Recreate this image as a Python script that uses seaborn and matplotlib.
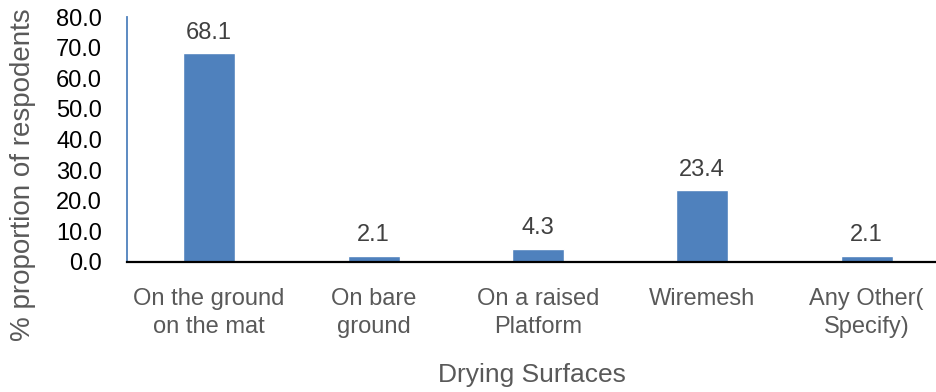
import matplotlib
matplotlib.use("Agg")
import matplotlib.pyplot as plt
import seaborn as sns
import pandas as pd

# Survey results: where the produce is dried
surfaces = ["On the ground\non the mat", "On bare\nground", "On a raised\nPlatform",
            "Wiremesh", "Any Other(\nSpecify)"]
percent = [68.1, 2.1, 4.3, 23.4, 2.1]
y_ticks = [0, 10, 20, 30, 40, 50, 60, 70, 80]

df = pd.DataFrame({"surface": surfaces, "percent": percent})

sns.set_theme(style="white")
plt.rcParams["font.family"] = ["Liberation Sans", "DejaVu Sans"]

fig = plt.figure(figsize=(9.37, 3.92), dpi=100)
ax = fig.add_axes([127 / 937, 130 / 392, 810 / 937, 245 / 392])

bar_color = "#4F81BD"
sns.barplot(data=df, x="surface", y="percent", color=bar_color, width=0.316,
            saturation=1, ax=ax)

ax.set_xlim(-0.5, 4.428)
ax.set_ylim(0, 80)
ax.set_yticks(y_ticks)
ax.set_yticklabels([f"{v:.1f}" for v in y_ticks], color="black", fontsize=17)
ax.tick_params(axis="y", length=0, pad=18)
ax.tick_params(axis="x", length=0, pad=19, labelsize=17, labelcolor="#595959")
for lbl in ax.get_xticklabels():
    lbl.set_linespacing(1.32)

for spine in ["top", "right"]:
    ax.spines[spine].set_visible(False)
ax.spines["left"].set_color(bar_color)
ax.spines["left"].set_linewidth(1.3)
ax.spines["bottom"].set_color("black")
ax.spines["bottom"].set_linewidth(1.6)
ax.spines["bottom"].set_zorder(5)

for container in ax.containers:
    ax.bar_label(container, labels=[f"{v:.1f}" for v in percent], padding=7,
                 fontsize=17, color="#404040")

ax.set_xlabel("Drying Surfaces", fontsize=19, color="#595959", labelpad=18)
ax.set_ylabel("% proportion of respodents", fontsize=20, color="#595959")
ax.yaxis.label.set_va("center")
ax.yaxis.set_label_coords(-0.128, 0.355)

fig.savefig("out.png", dpi=100)
